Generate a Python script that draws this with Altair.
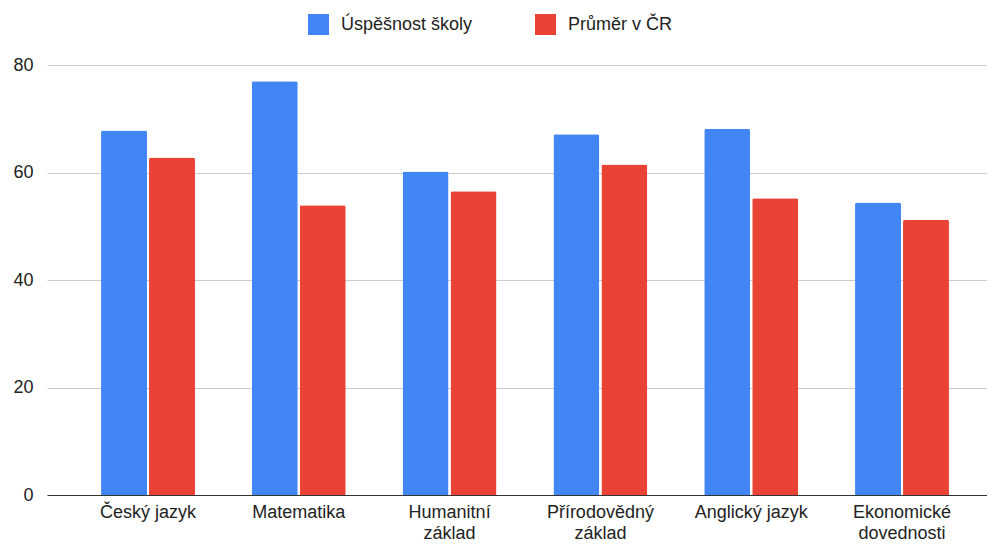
import altair as alt
import pandas as pd

categories = ["Český jazyk", "Matematika", "Humanitní základ",
              "Přírodovědný základ", "Anglický jazyk", "Ekonomické dovednosti"]
wrapped = ["Humanitní základ", "Přírodovědný základ", "Ekonomické dovednosti"]
series = ["Úspěšnost školy", "Průměr v ČR"]
skola = [67.8, 77.0, 60.2, 67.1, 68.1, 54.4]
prumer = [62.8, 53.9, 56.5, 61.5, 55.2, 51.2]
colors = ["#4285F4", "#EA4335"]
y_ticks = [0, 20, 40, 60, 80]

rows = []
for c, a, b in zip(categories, skola, prumer):
    rows.append({"kategorie": c, "serie": series[0], "hodnota": a})
    rows.append({"kategorie": c, "serie": series[1], "hodnota": b})
df = pd.DataFrame(rows)

FONT = "Liberation Sans"
wrap_list = "[" + ",".join("'" + w + "'" for w in wrapped) + "]"
label_expr = f"indexof({wrap_list}, datum.label) >= 0 ? split(datum.label, ' ') : datum.label"

chart = alt.Chart(df).mark_bar(
    cornerRadiusTopLeft=2, cornerRadiusTopRight=2
).encode(
    x=alt.X("kategorie:N", sort=categories,
            scale=alt.Scale(paddingInner=0.377, paddingOuter=0.3052, align=0.587),
            axis=alt.Axis(title=None, labelAngle=0, ticks=False, domain=True,
                          domainColor="#333333", domainWidth=1, grid=False,
                          labelFont=FONT, labelFontSize=18, labelColor="#222222",
                          labelPadding=8, labelLineHeight=21, labelExpr=label_expr)),
    xOffset=alt.XOffset("serie:N", sort=series,
                        scale=alt.Scale(paddingInner=0.042, paddingOuter=0)),
    y=alt.Y("hodnota:Q", scale=alt.Scale(domain=[0, 80], nice=False),
            axis=alt.Axis(title=None, values=y_ticks, ticks=False, domain=False,
                          gridColor="#cccccc", gridWidth=1,
                          labelFont=FONT, labelFontSize=18, labelColor="#222222",
                          labelPadding=14)),
    color=alt.Color("serie:N", sort=series,
                    scale=alt.Scale(domain=series, range=colors),
                    legend=alt.Legend(title=None, orient="none", direction="horizontal",
                                      legendX=261, legendY=-51,
                                      symbolType="square", symbolSize=441,
                                      symbolStrokeWidth=0, symbolOpacity=1,
                                      labelFont=FONT, labelFontSize=18,
                                      labelColor="#222222", labelOffset=12,
                                      columnPadding=62)),
).properties(
    width=940, height=430,
    autosize=alt.AutoSizeParams(type="none"),
    padding={"left": 39, "top": 57, "right": 0, "bottom": 47},
).configure_view(stroke=None)

chart.save("out.html", embed_options={"renderer": "svg", "actions": False})
